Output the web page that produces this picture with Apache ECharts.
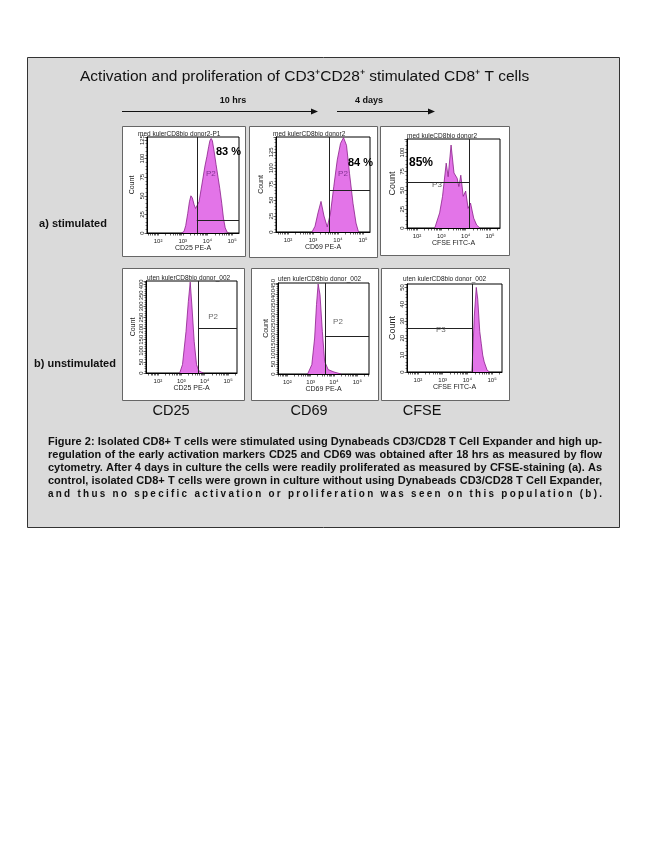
<!DOCTYPE html>
<html><head><meta charset="utf-8">
<script src="https://cdn.jsdelivr.net/npm/echarts@6/dist/echarts.min.js"></script>
<style>html,body{margin:0;padding:0;background:#fff}#c{width:650px;height:866px}</style>
</head><body><div id="c"></div><script>
// ---------- data ----------
const stimCD25Log   = [2.95,3.05,3.12,3.2,3.27,3.33,3.39,3.46,3.52,3.58,3.66,3.74,3.82,3.9,3.98,4.05,4.1,4.15,4.2,4.27,4.35,4.43,4.5,4.58,4.65,4.72,4.8,4.88];
const stimCD25Count = [0,2,10,26,42,50,47,38,33,32,42,58,74,90,103,116,124,127,124,110,92,75,60,40,20,7,1,0];
const stimCD69Log   = [2.96,3.08,3.2,3.32,3.44,3.57,3.7,3.83,3.97,4.1,4.22,4.34,4.46,4.6,4.72,4.82];
const stimCD69Count = [0,9,30,48,25,8,30,71,113,139,148,136,92,45,14,0];
const stimCFSELog   = [2.73,2.93,3.05,3.2,3.28,3.4,3.52,3.65,3.72,3.8,3.9,4.0,4.1,4.2,4.33,4.45,4.58];
const stimCFSECount = [0,20,42,86,68,110,73,66,55,70,42,49,26,33,13,4,0];
const unstimCD25Log   = [2.93,3.05,3.2,3.3,3.38,3.45,3.55,3.65,3.75,3.85,3.95];
const unstimCD25Count = [0,38,187,322,410,307,142,38,10,4,0];
const unstimCD69Log   = [2.87,3.05,3.17,3.25,3.32,3.4,3.5,3.6,3.75,4.0,4.3];
const unstimCD69Count = [0,47,180,347,450,397,213,63,22,10,0];
const unstimCFSELog   = [4.18,4.22,4.28,4.36,4.42,4.5,4.56,4.62,4.68,4.8,4.9];
const unstimCFSECount = [0,12,33,50,43,24,17,10,6,1,0];

const xMin  = [1.55,1.52,1.59,1.49,1.6,1.56];
const xMax  = [5.28,5.28,5.41,5.38,5.5,5.4];
const yMax  = [129,149,118,415,455,52];
const yStep = [25,25,25,50,50,10];
const xTickDecades = [2,3,4,5];

const gateX = [3.57,3.64,4.16,3.72,3.61,4.2];
const gateY = [17,66,60,203,190,26];
const gateSide = ['right','right','left','right','right','left'];
const gateNames = ['P2','P2','P3','P2','P2','P3'];
const gateLabelX = [4.14,4.2,2.82,4.36,4.17,2.93];
const gateLabelY = [79,92,57,253,260,25];
const gatePercent = ['83 %','84 %','85%'];

const plotTitles = ['med kulerCD8bio donor2-P1','med kulerCD8bio donor2','med kuleCD8bio donor2',
  'uten kulerCD8bio donor_002','uten kulerCD8bio donor_002','uten kulerCD8bio donor_002'];
const xAxisNames = ['CD25 PE-A','CD69 PE-A','CFSE FITC-A','CD25 PE-A','CD69 PE-A','CFSE FITC-A'];
const yAxisName = 'Count';
const rowLabels = ['a) stimulated','b) unstimulated'];
const columnLabels = ['CD25','CD69','CFSE'];
const timeLabels = ['10 hrs','4 days'];
const mainTitle = 'Activation and proliferation of CD3\u207aCD28\u207a stimulated CD8\u207a T cells';
const captionLines = [
  'Figure 2: Isolated CD8+ T cells were stimulated using Dynabeads CD3/CD28 T Cell Expander and high up-',
  'regulation of the early activation markers CD25 and CD69 was obtained after 18 hrs as measured by flow',
  'cytometry. After 4 days in culture the cells were readily proliferated as measured by CFSE-staining (a). As',
  'control, isolated CD8+ T cells were grown in culture without using Dynabeads CD3/CD28 T Cell Expander,',
  'and thus no specific activation or proliferation was seen on this population (b).'
];

const histLogs = [stimCD25Log, stimCD69Log, stimCFSELog, unstimCD25Log, unstimCD69Log, unstimCFSELog];
const histCounts = [stimCD25Count, stimCD69Count, stimCFSECount, unstimCD25Count, unstimCD69Count, unstimCFSECount];

// ---------- layout ----------
const FONT = '"Liberation Sans", Arial, sans-serif';
const grids = [
  {left:147, top:137, width:92, height:96},
  {left:276, top:137, width:94, height:95},
  {left:407, top:139, width:93, height:89},
  {left:146, top:281, width:91, height:92},
  {left:278, top:283, width:91, height:91},
  {left:407, top:284, width:95, height:88}
];
const panels = [[122,126,123,130],[249,126,128,131],[380,126,129,129],[122,268,122,132],[251,268,127,132],[381,268,128,132]];
const titlePos = [[138,134],[273,134],[407,136],[147,278],[278,279],[403,279]];
const yNameGap = [11,11,10,9.5,8.5,10];
const yNameSize = [7,7,9,7,7,9];
const pctPos = [[216,152,11],[348,163,11],[409,163,12]];
const gateLabelColor = ['#6a2080','#6a2080','#333','#444','#444','#444'];

const sup = {2:'\u00b2',3:'\u00b3',4:'\u2074',5:'\u2075'};
function logMinorTicks(min,max){const t=[];for(let n=1;n<=5;n++)for(let k=1;k<=9;k++){const v=n+Math.log10(k);if(v>=min&&v<=max)t.push(v);}return t;}
function majorTicks(max,step){const t=[];for(let v=0;v<=max+1e-9;v+=step)t.push(v);return t;}

const gridOpt=[], xAxes=[], yAxes=[], series=[];
for(let i=0;i<6;i++){
  gridOpt.push(Object.assign({show:true,borderColor:'#000',borderWidth:1,backgroundColor:'#fff',containLabel:false},grids[i]));
  xAxes.push({gridIndex:i,type:'value',min:xMin[i],max:xMax[i],
    axisLine:{show:true,lineStyle:{color:'#000',width:1}},
    axisTick:{show:true,customValues:logMinorTicks(xMin[i],xMax[i]),length:2.5,lineStyle:{color:'#000',width:0.6}},
    axisLabel:{show:true,customValues:xTickDecades,formatter:v=>'10'+sup[Math.round(v)],fontSize:6,margin:5,color:'#222',fontFamily:FONT},
    splitLine:{show:false},
    name:xAxisNames[i],nameLocation:'middle',nameGap:11,nameTextStyle:{fontSize:7,color:'#222',fontFamily:FONT}});
  yAxes.push({gridIndex:i,type:'value',min:0,max:yMax[i],interval:yStep[i],
    axisLine:{show:true,lineStyle:{color:'#000',width:1}},
    axisTick:{show:true,length:2.5,lineStyle:{color:'#000',width:0.6}},
    minorTick:{show:true,splitNumber:5,length:1.5,lineStyle:{color:'#000',width:0.5}},
    axisLabel:{show:true,customValues:majorTicks(yMax[i],yStep[i]),rotate:90,fontSize:6,margin:2,color:'#222',fontFamily:FONT},
    splitLine:{show:false},minorSplitLine:{show:false},
    name:yAxisName,nameLocation:'middle',nameRotate:90,nameGap:yNameGap[i],nameTextStyle:{fontSize:yNameSize[i],color:'#222',fontFamily:FONT}});
  const gx=gateX[i], gy=gateY[i];
  const hLine = gateSide[i]==='right' ? [{coord:[gx,gy]},{coord:[xMax[i],gy]}] : [{coord:[xMin[i],gy]},{coord:[gx,gy]}];
  series.push({type:'line',xAxisIndex:i,yAxisIndex:i,symbol:'none',silent:true,z:2,
    data:histLogs[i].map((x,j)=>[x,histCounts[i][j]]),
    lineStyle:{color:'#8a1f8a',width:0.8},
    areaStyle:{color:'#e374e8',opacity:1},
    markLine:{silent:true,symbol:['none','none'],label:{show:false},animation:false,
      lineStyle:{color:'#222',width:1,type:'solid'},
      data:[[{coord:[gx,yMax[i]]},{coord:[gx,0]}],hLine]}
  });
  series.push({type:'scatter',xAxisIndex:i,yAxisIndex:i,silent:true,z:5,symbolSize:1,
    itemStyle:{color:'rgba(0,0,0,0)'},
    data:[{value:[gateLabelX[i],gateLabelY[i]],name:gateNames[i]}],
    label:{show:true,position:'inside',formatter:'{b}',fontSize:8,color:gateLabelColor[i],fontFamily:FONT}});
}

// ---------- static graphic elements ----------
const els=[];
els.push({type:'rect',z:-10,shape:{x:27.5,y:57.5,width:592,height:470},style:{fill:'#dadada',stroke:'#333',lineWidth:1}});
panels.forEach(p=>els.push({type:'rect',z:-5,shape:{x:p[0]+0.5,y:p[1]+0.5,width:p[2],height:p[3]},style:{fill:'#fff',stroke:'#666',lineWidth:1}}));
els.push({type:'text',x:80,y:77,style:{text:mainTitle,font:'15.5px '+FONT,fill:'#111',verticalAlign:'middle'}});
els.push({type:'text',x:233,y:101,style:{text:timeLabels[0],font:'bold 9px '+FONT,fill:'#111',align:'center',verticalAlign:'middle'}});
els.push({type:'text',x:369,y:101,style:{text:timeLabels[1],font:'bold 9px '+FONT,fill:'#111',align:'center',verticalAlign:'middle'}});
[[122,318],[337,435]].forEach(a=>{
  els.push({type:'line',shape:{x1:a[0],y1:111.5,x2:a[1]-6,y2:111.5},style:{stroke:'#111',lineWidth:1}});
  els.push({type:'polygon',shape:{points:[[a[1],111.5],[a[1]-7,108.5],[a[1]-7,114.5]]},style:{fill:'#111'}});
});
els.push({type:'text',x:73,y:224,style:{text:rowLabels[0],font:'bold 11px '+FONT,fill:'#111',align:'center',verticalAlign:'middle'}});
els.push({type:'text',x:75,y:364,style:{text:rowLabels[1],font:'bold 11px '+FONT,fill:'#111',align:'center',verticalAlign:'middle'}});
[171,309,422].forEach((cx,k)=>els.push({type:'text',x:cx,y:411,style:{text:columnLabels[k],font:'14.5px '+FONT,fill:'#111',align:'center',verticalAlign:'middle'}}));
for(let i=0;i<6;i++){
  els.push({type:'text',z:10,x:titlePos[i][0],y:titlePos[i][1],style:{text:plotTitles[i],font:'6.5px '+FONT,fill:'#222',verticalAlign:'middle'}});
}
pctPos.forEach((p,k)=>els.push({type:'text',z:10,x:p[0],y:p[1],style:{text:gatePercent[k],font:'bold '+p[2]+'px '+FONT,fill:'#000',verticalAlign:'middle'}}));

// caption: justified lines (condensed bold), last line letter-spaced
const capFont='bold 11px "Liberation Sans Narrow", "Liberation Sans", Arial, sans-serif';
const capLeft=48, capRight=602, capY=[442,455,468,481,494];
const ctx=document.createElement('canvas').getContext('2d'); ctx.font=capFont;
captionLines.forEach((line,li)=>{
  const last = li===captionLines.length-1;
  const words = last ? line.split('') : line.split(' ');
  const widths=words.map(w=>ctx.measureText(w).width);
  const total=widths.reduce((a,b)=>a+b,0);
  const minGap = last ? 0 : 3;
  let gap=(capRight-capLeft-total)/(words.length-1), s=1;
  if(gap<minGap){gap=minGap;s=(capRight-capLeft-minGap*(words.length-1))/total;}
  if(last){ s=0.9; gap=(capRight-capLeft-total*s)/(words.length-1); }
  let x=capLeft;
  words.forEach((w,k)=>{
    if(w!==' ') els.push({type:'text',x:x,y:capY[li],scaleX:s,style:{text:w,font:capFont,fill:'#111',verticalAlign:'middle'}});
    x+=widths[k]*s+gap;
  });
});

const chart=echarts.init(document.getElementById('c'),null,{renderer:'canvas',width:650,height:866});
chart.setOption({backgroundColor:'#fff',animation:false,grid:gridOpt,xAxis:xAxes,yAxis:yAxes,series:series,graphic:{elements:els}});
</script></body></html>
